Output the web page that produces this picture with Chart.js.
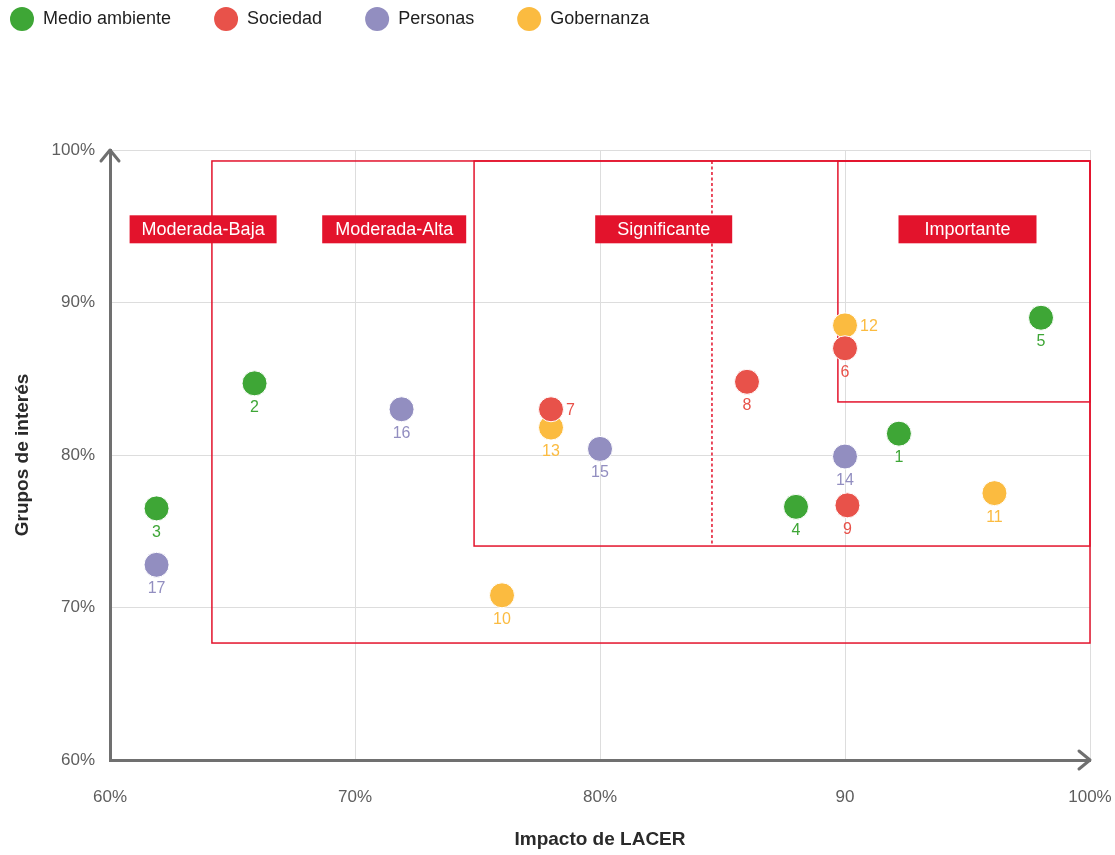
<!DOCTYPE html>
<html>
<head>
<meta charset="utf-8">
<script src="https://cdn.jsdelivr.net/npm/chart.js@4.4.1/dist/chart.umd.min.js"></script>
<style>
  html, body { margin: 0; padding: 0; background: #ffffff; }
  #wrap { width: 1115px; height: 855px; position: relative; }
</style>
</head>
<body>
<div id="wrap"><canvas id="c" width="1115" height="855"></canvas></div>
<script>
// ---------- DATA ----------
const seriesNames = ['Medio ambiente', 'Sociedad', 'Personas', 'Gobernanza'];

const medioIds = ['1', '2', '3', '4', '5'];
const medioX   = [92.2, 65.9, 61.9, 88.0, 98.0];
const medioY   = [81.4, 84.7, 76.5, 76.6, 89.0];

const sociedadIds = ['6', '7', '8', '9'];
const sociedadX   = [90.0, 78.0, 86.0, 90.1];
const sociedadY   = [87.0, 83.0, 84.8, 76.7];

const personasIds = ['14', '15', '16', '17'];
const personasX   = [90.0, 80.0, 71.9, 61.9];
const personasY   = [79.9, 80.4, 83.0, 72.8];

const gobernanzaIds = ['10', '11', '12', '13'];
const gobernanzaX   = [76.0, 96.1, 90.0, 78.0];
const gobernanzaY   = [70.8, 77.5, 88.5, 81.8];

const xTickValues = [60, 70, 80, 90, 100];
const xTickLabels = ['60%', '70%', '80%', '90', '100%'];
const yTickValues = [60, 70, 80, 90, 100];
const yTickLabels = ['60%', '70%', '80%', '90%', '100%'];

const xTitle = 'Impacto de LACER';
const yTitle = 'Grupos de interés';

// Materiality zones (axis units)
const zoneNames  = ['Moderada-Baja', 'Moderada-Alta', 'Significante', 'Importante'];
const zoneLeft   = [64.16, 74.86, 89.71];
const zoneRight  = [100, 100, 100];
const zoneTop    = [99.28, 99.28, 99.28];
const zoneBottom = [67.67, 74.03, 83.48];
const zoneDivider = 84.57;          // dashed split inside "Significante"
const zoneLabelX = [63.8, 71.6, 82.6, 95.0];
const zoneLabelY = 94.8;

// ---------- STYLE ----------
const colors = ['#3ea636', '#e8524a', '#928ec0', '#fbbb40'];
const zoneRed = '#e3132c';
const labelWidths = [147, 144, 137, 138];
const rightLabelIds = ['7', '12'];
const FONT = '"Liberation Sans", Arial, Helvetica, sans-serif';

function pts(xs, ys, ids) { return xs.map((x, i) => ({ x: x, y: ys[i], id: ids[i] })); }

const datasets = [
  { label: seriesNames[0], data: pts(medioX, medioY, medioIds), backgroundColor: colors[0] },
  { label: seriesNames[1], data: pts(sociedadX, sociedadY, sociedadIds), backgroundColor: colors[1] },
  { label: seriesNames[2], data: pts(personasX, personasY, personasIds), backgroundColor: colors[2] },
  { label: seriesNames[3], data: pts(gobernanzaX, gobernanzaY, gobernanzaIds), backgroundColor: colors[3] }
].map(d => Object.assign(d, { pointRadius: 12.5, pointHoverRadius: 12.5, borderColor: '#ffffff', borderWidth: 1 }));

// ---------- PLUGINS ----------
const zonesPlugin = {
  id: 'zones',
  beforeDatasetsDraw(chart) {
    const { ctx, scales: { x, y } } = chart;
    ctx.save();
    ctx.strokeStyle = zoneRed;
    ctx.lineWidth = 1.5;
    for (let i = 0; i < zoneLeft.length; i++) {
      const l = x.getPixelForValue(zoneLeft[i]), r = x.getPixelForValue(zoneRight[i]);
      const t = y.getPixelForValue(zoneTop[i]), b = y.getPixelForValue(zoneBottom[i]);
      ctx.strokeRect(l, t, r - l, b - t);
    }
    // dashed divider
    ctx.setLineDash([3, 2.5]);
    ctx.lineWidth = 1.5;
    const dx = x.getPixelForValue(zoneDivider);
    ctx.beginPath();
    ctx.moveTo(dx, y.getPixelForValue(zoneTop[1]));
    ctx.lineTo(dx, y.getPixelForValue(zoneBottom[1]));
    ctx.stroke();
    ctx.setLineDash([]);
    // labels
    ctx.font = '18px ' + FONT;
    ctx.textAlign = 'center';
    ctx.textBaseline = 'middle';
    const cy = y.getPixelForValue(zoneLabelY);
    zoneNames.forEach((name, i) => {
      const cx = x.getPixelForValue(zoneLabelX[i]);
      const w = labelWidths[i], h = 28;
      ctx.fillStyle = zoneRed;
      ctx.fillRect(cx - w / 2, cy - h / 2, w, h);
      ctx.fillStyle = '#ffffff';
      ctx.fillText(name, cx, cy + 1);
    });
    ctx.restore();
  }
};

const pointLabelsPlugin = {
  id: 'pointLabels',
  afterDatasetsDraw(chart) {
    const ctx = chart.ctx;
    ctx.save();
    ctx.font = '16px ' + FONT;
    ctx.textBaseline = 'middle';
    chart.data.datasets.forEach((ds, di) => {
      const meta = chart.getDatasetMeta(di);
      meta.data.forEach((el, i) => {
        const id = ds.data[i].id;
        ctx.fillStyle = ds.backgroundColor;
        if (rightLabelIds.includes(id)) {
          ctx.textAlign = 'left';
          ctx.fillText(id, el.x + 15, el.y + 1);
        } else {
          ctx.textAlign = 'center';
          ctx.fillText(id, el.x, el.y + 24);
        }
      });
    });
    ctx.restore();
  }
};

const arrowsPlugin = {
  id: 'arrows',
  afterDraw(chart) {
    const { ctx, chartArea: a } = chart;
    ctx.save();
    ctx.strokeStyle = '#707070';
    ctx.lineWidth = 3;
    ctx.lineCap = 'round';
    ctx.lineJoin = 'round';
    ctx.beginPath();
    ctx.moveTo(a.left - 9, a.top + 11);
    ctx.lineTo(a.left, a.top);
    ctx.lineTo(a.left + 9, a.top + 11);
    ctx.stroke();
    ctx.beginPath();
    ctx.moveTo(a.right - 11, a.bottom - 9);
    ctx.lineTo(a.right, a.bottom);
    ctx.lineTo(a.right - 11, a.bottom + 9);
    ctx.stroke();
    ctx.restore();
  }
};

const legendPlugin = {
  id: 'topLegend',
  afterDraw(chart) {
    const ctx = chart.ctx;
    ctx.save();
    ctx.font = '18px ' + FONT;
    ctx.textBaseline = 'middle';
    ctx.textAlign = 'left';
    let x = 10;
    const cy = 19;
    chart.data.datasets.forEach(ds => {
      ctx.fillStyle = ds.backgroundColor;
      ctx.beginPath();
      ctx.arc(x + 12, cy, 12, 0, Math.PI * 2);
      ctx.fill();
      ctx.fillStyle = '#1e1e1e';
      ctx.fillText(ds.label, x + 33, cy);
      x += 33 + ctx.measureText(ds.label).width + 43;
    });
    ctx.restore();
  }
};

// ---------- CHART ----------
new Chart(document.getElementById('c'), {
  type: 'scatter',
  data: { datasets: datasets },
  plugins: [zonesPlugin, pointLabelsPlugin, arrowsPlugin, legendPlugin],
  options: {
    responsive: false,
    animation: false,
    layout: { padding: { top: 150, right: 25, left: 0, bottom: 0 } },
    plugins: { legend: { display: false }, tooltip: { enabled: false } },
    scales: {
      x: {
        type: 'linear', min: 60, max: 100,
        afterBuildTicks(s) { s.ticks = xTickValues.map(v => ({ value: v })); },
        afterFit(s) { s.height = 95; s.paddingRight = 0; s.paddingLeft = 0; },
        grid: { color: '#dddddd', lineWidth: 1, drawTicks: false },
        border: { color: '#707070', width: 3 },
        ticks: {
          padding: 27, color: '#5e5e5e', font: { family: FONT, size: 17 },
          callback(v) { const i = xTickValues.indexOf(v); return i >= 0 ? xTickLabels[i] : ''; }
        },
        title: { display: true, text: xTitle, color: '#2a2a2a', font: { family: FONT, size: 19, weight: 'bold' }, padding: { top: 0, bottom: 4 } }
      },
      y: {
        type: 'linear', min: 60, max: 100,
        afterBuildTicks(s) { s.ticks = yTickValues.map(v => ({ value: v })); },
        afterFit(s) { s.width = 110; },
        grid: { color: '#dddddd', lineWidth: 1, drawTicks: false },
        border: { color: '#707070', width: 3 },
        ticks: {
          padding: 15, color: '#5e5e5e', font: { family: FONT, size: 17 },
          callback(v) { const i = yTickValues.indexOf(v); return i >= 0 ? yTickLabels[i] : ''; }
        },
        title: { display: true, text: yTitle, color: '#2a2a2a', font: { family: FONT, size: 19, weight: 'bold' }, padding: { top: 11, bottom: 0 } }
      }
    }
  }
});
</script>
</body>
</html>
